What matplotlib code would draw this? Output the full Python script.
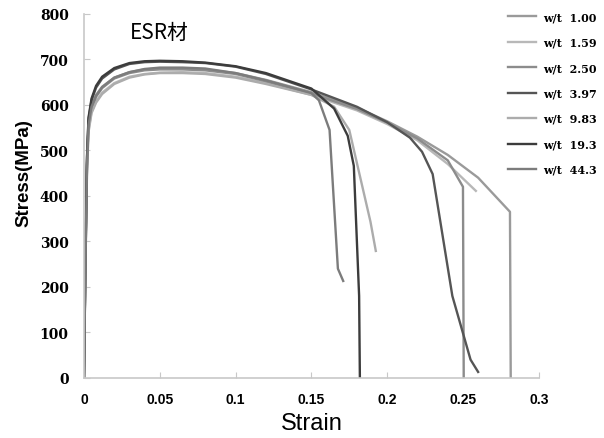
import matplotlib.pyplot as plt

# curves: strain / stress (MPa)
s_100 = [0, 0.001, 0.002, 0.003, 0.005, 0.008, 0.012, 0.02, 0.03, 0.04, 0.05, 0.065, 0.08, 0.1, 0.12, 0.15, 0.18, 0.2, 0.22, 0.24, 0.26, 0.281, 0.2815]
y_100 = [0, 260, 470, 558, 598, 622, 640, 660, 672, 678, 680, 680, 678, 670, 655, 628, 594, 564, 530, 490, 440, 365, 0]

s_159 = [0, 0.001, 0.002, 0.003, 0.005, 0.008, 0.012, 0.02, 0.03, 0.04, 0.05, 0.065, 0.08, 0.1, 0.12, 0.15, 0.18, 0.2, 0.22, 0.24, 0.2585]
y_159 = [0, 250, 455, 545, 585, 608, 627, 648, 662, 668, 671, 672, 670, 662, 648, 622, 588, 558, 522, 470, 411]

s_250 = [0, 0.001, 0.002, 0.003, 0.005, 0.008, 0.012, 0.02, 0.03, 0.04, 0.05, 0.065, 0.08, 0.1, 0.12, 0.15, 0.18, 0.2, 0.22, 0.24, 0.25, 0.2505]
y_250 = [0, 255, 465, 552, 592, 618, 637, 658, 670, 676, 678, 678, 676, 668, 652, 625, 591, 561, 526, 478, 420, 0]

s_397 = [0, 0.001, 0.002, 0.003, 0.005, 0.008, 0.012, 0.02, 0.03, 0.04, 0.05, 0.065, 0.08, 0.1, 0.12, 0.15, 0.18, 0.2, 0.215, 0.223, 0.230, 0.243, 0.255, 0.260]
y_397 = [0, 270, 480, 568, 610, 638, 658, 678, 690, 694, 695, 694, 692, 684, 668, 634, 596, 562, 528, 497, 448, 180, 40, 13]

s_983 = [0, 0.001, 0.002, 0.003, 0.005, 0.008, 0.012, 0.02, 0.03, 0.04, 0.05, 0.065, 0.08, 0.1, 0.12, 0.15, 0.165, 0.175, 0.189, 0.1925]
y_983 = [0, 245, 450, 540, 582, 605, 624, 646, 660, 667, 670, 670, 668, 660, 646, 622, 596, 545, 343, 279]

s_193 = [0, 0.001, 0.002, 0.003, 0.005, 0.008, 0.012, 0.02, 0.03, 0.04, 0.05, 0.065, 0.08, 0.1, 0.12, 0.15, 0.165, 0.174, 0.178, 0.1815, 0.182]
y_193 = [0, 275, 485, 572, 614, 642, 662, 681, 692, 696, 697, 696, 693, 685, 670, 636, 592, 532, 466, 180, 0]

s_443 = [0, 0.001, 0.002, 0.003, 0.005, 0.008, 0.012, 0.02, 0.03, 0.04, 0.05, 0.065, 0.08, 0.1, 0.12, 0.15, 0.155, 0.162, 0.1675, 0.171]
y_443 = [0, 258, 468, 555, 596, 620, 639, 660, 672, 679, 682, 682, 680, 670, 654, 626, 610, 545, 240, 213]

labels = ['w/t  1.00', 'w/t  1.59', 'w/t  2.50', 'w/t  3.97', 'w/t  9.83', 'w/t  19.3', 'w/t  44.3']
colors = ['#9a9a9a', '#b8b8b8', '#8c8c8c', '#555555', '#acacac', '#3c3c3c', '#7c7c7c']
xticks = [0, 0.05, 0.1, 0.15, 0.2, 0.25, 0.3]
xticklabels = ['0', '0.05', '0.1', '0.15', '0.2', '0.25', '0.3']
yticks = [0, 100, 200, 300, 400, 500, 600, 700, 800]

fig = plt.figure(figsize=(6.04, 4.39), dpi=100)
ax = fig.add_axes([0.139, 0.137, 0.753, 0.829])

curves = [(s_100, y_100), (s_159, y_159), (s_250, y_250), (s_397, y_397),
          (s_983, y_983), (s_193, y_193), (s_443, y_443)]
handles = []
for (xs, ys), c, lab in zip(curves, colors, labels):
    h, = ax.plot(xs, ys, color=c, lw=1.7, label=lab)
    handles.append(h)

ax.set_xlim(0, 0.3)
ax.set_ylim(0, 800)
ax.set_xticks(xticks)
ax.set_xticklabels(xticklabels, fontfamily='Liberation Sans', fontweight='bold', fontsize=10)
ax.set_yticks(yticks)
ax.set_yticklabels([str(v) for v in yticks], fontfamily='DejaVu Serif', fontweight='bold', fontsize=10)
ax.tick_params(axis='x', direction='in', length=4, color='#c8c8c8', pad=10)
ax.tick_params(axis='y', direction='in', length=4, color='#c8c8c8', pad=11)
for sp in ['top', 'right']:
    ax.spines[sp].set_visible(False)
for sp in ['left', 'bottom']:
    ax.spines[sp].set_color('#c8c8c8')
    ax.spines[sp].set_linewidth(1.2)

ax.set_xlabel('Strain', fontfamily='Liberation Sans', fontsize=17)
ax.xaxis.set_label_coords(0.5, -0.094)
ax.set_ylabel('Stress(MPa)', fontfamily='Liberation Sans', fontweight='bold', fontsize=13.5)
ax.yaxis.set_label_coords(-0.114, 0.566)

ax.text(0.03, 760, 'ESR材', fontfamily=['Noto Sans CJK JP', 'DejaVu Sans'], fontsize=15, va='center')

fig.legend(handles=handles, loc='upper left', bbox_to_anchor=(0.825, 0.995), frameon=False,
           prop={'family': 'DejaVu Serif', 'weight': 'bold', 'size': 8},
           handlelength=2.5, handletextpad=0.6, labelspacing=1.3)

plt.savefig('out.png', dpi=100)
